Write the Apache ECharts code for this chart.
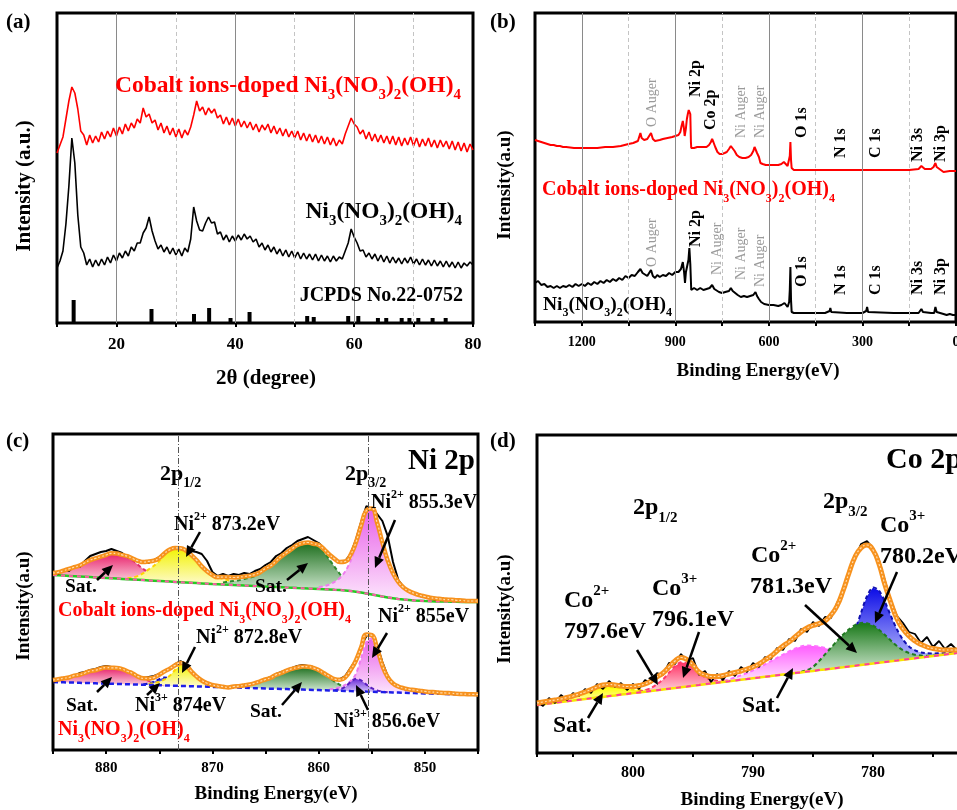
<!DOCTYPE html>
<html>
<head>
<meta charset="utf-8">
<script src="https://cdn.jsdelivr.net/npm/echarts@6/dist/echarts.min.js"></script>
<style>
  html, body { margin: 0; background: #fff; }
  #chart { width: 957px; height: 810px; }
</style>
</head>
<body>
<div id="chart"></div>
<script>
// ---------- (a) XRD, 2theta from 10 to 80 in 0.5 deg steps ----------
const xrdStart = 10, xrdStep = 0.5;
const xrdDoped = [
  170,178,186,204,222,236,230,214,192,188,
  178,188,180,187,181,191,184,192,186,195,
  187,196,189,199,192,200,195,204,200,215,
  206,209,200,203,193,200,190,197,188,195,
  186,194,185,193,188,196,208,222,212,216,
  208,215,210,214,205,208,199,206,198,205,
  197,204,196,202,195,201,193,199,191,198,
  193,199,190,197,189,195,187,194,186,192,
  185,192,183,190,182,189,181,188,180,187,
  179,186,178,185,177,183,179,189,197,205,
  199,196,189,193,184,191,182,189,181,188,
  180,187,179,187,178,186,177,185,178,186,
  177,185,176,184,177,185,176,183,175,183,
  176,182,174,182,173,181,172,180,171,179,
  173
];
const xrdPure = [
  55,62,72,99,137,185,160,108,76,70,
  58,64,56,63,57,64,58,66,60,68,
  62,70,65,72,67,76,72,80,80,90,
  95,106,92,82,74,78,71,76,69,75,
  68,74,67,75,71,84,116,102,93,92,
  100,106,100,101,89,91,83,88,81,87,
  82,88,83,89,84,87,81,84,76,80,
  73,78,71,76,69,74,67,73,66,72,
  65,71,64,70,64,69,63,69,62,68,
  62,67,61,67,62,66,64,72,80,94,
  86,80,72,73,66,70,64,69,62,68,
  61,67,60,66,60,65,59,65,60,66,
  59,64,58,64,58,63,57,63,57,62,
  56,62,56,61,55,61,55,60,57,61,
  58
];
const jcpdsAngle = [12.8, 25.9, 33.05, 35.6, 39.2, 42.4, 52.1, 53.2, 59.0, 60.7, 64.0, 65.4, 68.0, 69.3, 70.8, 73.2, 75.4];
const jcpdsHeight = [23, 14, 9, 15, 5, 11, 7, 6, 7, 7, 5, 5, 5, 5, 5, 5, 5];

// ---------- (b) XPS survey [binding energy, intensity] ----------
const surveyDoped = [
  [1350,182],[1340,181],[1330,180],[1320,179],[1310,178],[1300,177],[1290,177],[1280,176],[1270,176],[1260,175],
  [1250,175],[1225,174],[1200,174],[1175,174],[1150,174],[1125,175],[1100,175],[1075,176],[1050,178],[1035,179],
  [1020,181],[1016,185],[1012,189],[1008,184],[1000,182],[990,183],[984,184],[978,189],[972,183],[965,181],
  [950,182],[940,183],[925,184],[910,185],[900,186],[890,187],[884,190],[880,196],[876,201],[873,195],
  [870,186],[868,185],[866,194],[863,203],[860,208],[857,212],[855,214],[852,208],[850,180],[849,174],
  [840,174],[830,175],[820,175],[810,175],[800,175],[792,177],[786,180],[782,183],[778,180],[772,175],
  [765,170],[758,168],[750,168],[742,169],[735,170],[728,173],[722,176],[716,174],[710,171],[703,167],
  [695,165],[685,164],[675,164],[665,165],[657,167],[650,171],[646,175],[643,175],[638,169],[632,165],
  [627,159],[620,158],[610,157],[600,157],[585,157],[570,157],[560,158],[552,160],[546,158],[540,156],
  [535,158],[533,166],[531,180],[529,162],[527,154],[520,152],[500,152],[450,152],[400,152],[350,152],
  [300,152],[288,152],[285,154],[282,152],[250,152],[200,152],[150,152],[120,153],[114,155],[111,156],
  [107,154],[100,153],[80,153],[72,155],[66,159],[62,155],[58,153],[40,150],[20,151],[0,151]
];
const surveyPure = [
  [1350,39],[1340,41],[1330,37],[1320,38],[1310,35],[1300,36],[1290,34],[1280,36],[1270,34],[1260,36],
  [1250,35],[1240,37],[1230,35],[1220,38],[1210,36],[1200,38],[1190,36],[1180,39],[1170,37],[1160,40],
  [1150,38],[1140,41],[1130,39],[1120,42],[1110,40],[1100,43],[1090,41],[1080,44],[1070,42],[1060,46],
  [1050,44],[1040,47],[1030,46],[1020,50],[1012,53],[1005,49],[1000,50],[990,46],[984,48],[978,52],
  [972,46],[965,44],[958,47],[950,45],[940,47],[930,46],[920,49],[910,47],[900,50],[890,50],
  [882,53],[876,60],[872,50],[869,39],[866,50],[862,56],[858,62],[855,74],[852,58],[849,32],
  [840,34],[830,32],[820,34],[810,32],[800,33],[790,34],[782,37],[775,33],[770,32],[760,30],
  [750,29],[740,30],[728,31],[722,34],[716,31],[710,30],[700,27],[690,25],[680,26],[670,25],
  [660,26],[650,27],[643,30],[638,26],[632,23],[625,20],[615,18],[600,17],[585,17],[570,16],
  [560,17],[550,19],[545,17],[540,15],[535,20],[533,32],[531,55],[529,22],[527,10],[520,9],
  [500,9],[450,9],[420,9],[405,11],[403,14],[400,10],[395,9],[350,9],[300,9],[288,11],
  [285,15],[282,10],[278,9],[200,9],[150,9],[120,9],[114,11],[111,13],[106,10],[100,9],
  [80,9],[70,9],[66,15],[62,10],[60,8],[40,8],[30,7],[20,8],[10,7],[0,7]
];

// ---------- (c) Ni 2p, 885 -> 845 eV in 0.5 eV steps ----------
const niStart = 885, beStep = 0.5;
const niBgDoped = [
  175,174.7,174.4,174.1,173.8,173.5,173.2,172.9,172.6,172.3,
  172,171.7,171.4,171.1,170.8,170.5,170.2,169.9,169.6,169.3,
  169,168.7,168.4,168.1,167.8,167.5,167.2,166.9,166.6,166.3,
  166,165.8,165.5,165.3,165,164.8,164.5,164.3,164,163.8,
  163.5,163.3,163,162.8,162.5,162.3,162,161.8,161.5,161.3,
  161,160.8,160.5,160.2,160,159.5,159,158.3,157.5,156.5,
  155.5,154.5,153.5,152.6,151.8,151,150.4,150,149.6,149.3,
  149,148.8,148.6,148.5,148.4,148.3,148.2,148.1,148,148,
  148
];
const niEnvDoped = [
  177,177.7,179.4,181.1,182.8,184.5,187.2,189.9,191.6,193.3,
  195,196.7,196.4,195.1,193.8,191.5,189.2,187.9,188.6,189.3,
  192,196.7,200.4,202.1,201.8,199.5,195.2,189.9,183.6,178.8,
  175,172.8,173,172.8,172.5,172.8,173.5,174.3,175.5,177.8,
  181.5,184.3,189,193.8,197.5,201.3,205,206.8,207.5,206.3,
  205,200.8,195.5,191.2,188,188.5,195,207.3,224.5,239.5,
  241.5,227.5,207.5,189.6,176.8,168,162.4,159,156.6,154.8,
  153.5,152.3,151.6,151,150.4,150.3,149.7,149.6,149,149,
  149
];
const niRawDoped = [
  178,176,180,179,184,183,189,194,196,198,
  199,201,199,197,193,191,188,189,187,190,
  193,197,201,203,201,200,199,198,196,189,
  178,174,176,174,176,175,177,176,179,181,
  185,188,194,197,202,205,209,211,213,210,
  207,202,196,191,188,189,196,210,228,244,
  241,236,229,214,188,170,163,159,157,154,
  153,152,150,151,150,150,149,150,149,150,
  149
];
// fitted components: heights above background, 0.5 eV steps from their start energy
const dopedSat1 = [2,3,5,7,9,11,14,17,19,21,23,25,25,24,22,19,15,11,8,5,3,2,1,0];            // from 885
const dopedNi2a = [1,2,4,7,11,15,20,26,31,34,34,32,28,23,17,12.5,9,7,5.5,4.5,3.5,3,2.5,2,1.5,1,1]; // from 878
const dopedSat2 = [2,3,4,5,6.5,8,10,13,17,21,26,31,35,39,43,45,46,45,42,37,30,23,16,10,6,3,1,0]; // from 869
const dopedNi2b = [2,3,5,8,12,19,30,46,66,83,86,73,54,37,25,17,12,9,7,5.5,4.5,3.5,3,2.5,2,2,1.5,1.5,1,1,1]; // from 860

const niBgPure = [
  68,67.8,67.7,67.5,67.4,67.2,67,66.9,66.7,66.5,
  66.4,66.2,66.1,65.9,65.7,65.6,65.4,65.2,65.1,64.9,
  64.8,64.6,64.4,64.3,64.1,63.9,63.8,63.6,63.5,63.3,
  63.1,63,62.8,62.6,62.5,62.3,62.2,62,61.8,61.7,
  61.5,61.3,61.2,61,60.9,60.7,60.5,60.4,60.2,60.1,
  59.9,59.7,59.6,59.4,59.2,59.1,58.9,58.8,58.6,58.4,
  58.3,58.1,57.9,57.8,57.6,57.5,57.3,57.1,57,56.8,
  56.6,56.5,56.3,56.2,56,55.8,55.7,55.5,55.3,55.2,
  55
];
const niEnvPure = [
  70,70.8,71.7,72.5,74.4,75.2,77,78.9,79.7,81.5,
  82.4,82.2,82.1,80.9,78.7,76.6,73.4,71.7,71.6,72.4,
  75.3,78.6,81.4,84.8,87.1,84.9,78.8,73.6,69.5,66.8,
  65.1,64,63.3,62.6,63.5,63.8,64.7,65.5,66.8,68.7,
  70.5,72.3,75.2,77,79.4,81.2,82.5,83.4,83.2,82.1,
  79.9,76.7,73.6,70.9,70.2,72.6,79.9,89.3,102.6,115.4,
  114.8,101.6,84.4,72.8,66.6,63.5,61.8,60.6,60,59.3,
  58.6,58,57.8,57.2,57,56.8,56.2,56,55.8,55.7,
  55.5
];
const niRawPure = [
  68,70,71,73,74,77,78,80,81,83,
  84,83,82,81,78,77,74,72,73,74,
  76,79,81,86,89,86,80,74,70,66,
  64,63,64,62,64,63,65,66,67,69,
  71,73,76,78,80,82,84,85,84,83,
  80,77,74,71,71,74,82,90,104,114,
  116,105,88,74,66,63,61,60,59,58,
  58,57,58,56,57,56,56,55,56,55,
  55
];
const pureSat1 = [2,3,4,5,7,8,10,12,13,15,16,16,16,15,13,11,8,6,4,2,1,0];   // from 885
const pureNi3a = [0.5,1.5,3.5,6,8,7,4.5,2,1,0];                              // from 876.5
const pureNi2a = [1,2,3.5,6,10,16,21,20,15,10,6,3.5,2,1,0.5,0];              // from 876
const pureSat2 = [1,1.5,2.5,3.5,5,7,9,11,14,16,18.5,20.5,22,23,23,22,20,17,13,9,6,3.5,2,1,0]; // from 868
const pureNi3b = [0.5,1.5,4,9,12.5,11,7,3.5,1.5,0.5,0];                      // from 858.5
const pureNi2b = [1,2,3.5,6,10,17,33,50,53,42,26,15,9,6,4.5,3.5,3,2.5,2,1.5,1.5,1,1,1,0.5,0.5,0.5,0.5,0.5]; // from 859

// ---------- (d) Co 2p, 808 -> 773 eV in 0.5 eV steps ----------
const coStart = 808;
const coBg = [
  48,48.7,49.5,50.2,50.9,51.7,52.4,53.2,53.9,54.7,
  55.4,56.1,56.9,57.6,58.4,59.1,59.9,60.6,61.3,62.1,
  62.8,63.6,64.3,65,65.8,66.5,67.3,68,68.8,69.5,
  70.2,71,71.7,72.5,73.2,73.9,74.7,75.4,76.2,76.9,
  77.7,78.4,79.1,79.9,80.6,81.4,82.1,82.9,83.6,84.3,
  85.1,85.8,86.6,87.3,88.1,88.8,89.5,90.3,91,91.8,
  92.5,93.3,94,94.7,95.5,96.2,97,97.7,98.5,99.2,
  100
];
const coEnv = [
  50,51,52,53,54,55.5,57,59,61,63.5,
  66,68,68.5,68,67,66.5,66.5,67.5,69,72,
  76,80,86,92,95.5,93.5,88,81,78,76.5,
  76.5,77.5,79,80.5,82,84,86,89,93,97,
  102,107,111,116,121,125,127.5,129.5,132,138,
  147,162,180,196,205,208,203,189,168,150,
  134,124,117,112,108.5,106,104.5,103.5,103,103,
  103
];
const coRaw = [
  52,47,55,50,58,53,60,57,64,60,
  69,64,72,66,70,63,69,64,73,70,
  80,78,90,89,99,92,95,78,82,71,
  79,73,82,77,86,81,90,86,96,94,
  105,103,114,112,124,121,131,127,136,135,
  150,160,183,195,209,212,205,193,172,152,
  137,130,121,119,110,116,106,112,104,109,
  103
];
const coSatA = [0.5,1,2,3,4.5,6,7.5,8.5,9.5,9.5,9,8,6.5,5,3.5,2.5,1.5,1,0.5,0];   // from 807
const coCo2a = [0.5,1,2,3,3.5,3,2,1,0.5,0];                                       // from 799.5
const coCo3a = [0.5,1.5,3,6,10,16,22,25,23,18,12,7,4,2,1,0.5,0];                  // from 799.5
const coSatB = [0.5,1,2,3,4.5,6,8,10,12.5,15,17.5,20,22.5,24.5,26,26,25,23.5,21.5,19,16.5,14,11.5,9,7,5.5,4,3,2,1.5,1,0.5,0]; // from 793
const coCo3b = [0.5,2,5,11,21,35,52,68,76,72,60,45,31,20,12.5,8,5,3.5,2.5,2,1.5,1,1]; // from 784
const coCo2b = [0.5,1.5,4,9,15,21,27,32.5,37,40.5,42,41,38,33,27,20.5,14.5,9.5,6,3.5,2,1,0.5,0]; // from 786

// ---------- helpers ----------
const SERIF = '"Times New Roman", "Liberation Serif", serif';
const ORANGE = '#f7921e';

function scan(start, step, vals) {
  return vals.map((v, i) => [start + i * step, v]);
}

function grad(top, bottom) {
  return new echarts.graphic.LinearGradient(0, 0, 0, 1, [
    { offset: 0, color: top }, { offset: 1, color: bottom }
  ]);
}

// one fitted peak, filled between the background and background + peak height
function peak(ax, bg, bgStart, start, h, top, bottom, edge) {
  const off = Math.round((bgStart - start) / beStep);
  const rows = h.map((v, i) => [start - i * beStep, bg[off + i], bg[off + i] + v]);
  return {
    type: 'custom', xAxisIndex: ax, yAxisIndex: ax, silent: true, clip: true,
    data: rows, encode: { x: 0, y: [1, 2] },
    renderItem: function (params, api) {
      if (params.dataIndex !== 0) return null;
      const upper = rows.map(r => api.coord([r[0], r[2]]));
      const lower = rows.map(r => api.coord([r[0], r[1]])).reverse();
      return { type: 'group', children: [
        { type: 'polygon', shape: { points: upper.concat(lower) }, style: { fill: grad(top, bottom) } },
        { type: 'polyline', shape: { points: upper, smooth: 0.3 },
          style: { stroke: edge, lineWidth: 2, lineDash: [4, 3], fill: null } }
      ] };
    }
  };
}

function line(ax, data, color, width, extra) {
  return Object.assign({ type: 'line', xAxisIndex: ax, yAxisIndex: ax, data: data,
    showSymbol: false, silent: true, lineStyle: { color: color, width: width } }, extra || {});
}

// fitted envelope: thick orange line with a light dotted core
function envelope(ax, data, width) {
  return [
    line(ax, data, ORANGE, width, { smooth: true }),
    line(ax, data, '#ffd9a8', 1.2, { smooth: true, lineStyle: { color: '#ffdcae', width: 1.2, type: [2, 2] } })
  ];
}

function label(x, y, text, size, color, align) {
  const t = text.replace(/_\{([^}]*)\}/g, '{s|$1}').replace(/\^\{([^}]*)\}/g, '{p|$1}');
  const small = Math.round(size * 0.62);
  const c = color || '#000';
  return {
    type: 'text', z: 100, x: x, y: y,
    style: {
      text: t, fill: c, fontSize: size, fontWeight: 'bold', fontFamily: SERIF,
      lineHeight: Math.round(size * 1.45), align: align || 'left', verticalAlign: 'middle',
      rich: {
        s: { fontSize: small, fontWeight: 'bold', fontFamily: SERIF, fill: c, verticalAlign: 'bottom', lineHeight: small },
        p: { fontSize: small, fontWeight: 'bold', fontFamily: SERIF, fill: c, verticalAlign: 'top', lineHeight: small }
      }
    }
  };
}

function title(x, y, text, size, vertical) {
  return {
    type: 'text', z: 100, x: x, y: y, rotation: vertical ? Math.PI / 2 : 0,
    style: { text: text, fill: '#000', fontSize: size, fontWeight: 'bold', fontFamily: SERIF,
      align: 'center', verticalAlign: 'middle' }
  };
}

function vlabel(x, yBottom, text, gray) {
  return {
    type: 'text', z: 100, x: x, y: yBottom, rotation: Math.PI / 2,
    style: {
      text: text, fill: gray ? '#9a9a9a' : '#000', fontSize: gray ? 14 : 16,
      fontWeight: gray ? 'normal' : 'bold', fontFamily: SERIF, align: 'left', verticalAlign: 'middle'
    }
  };
}

function arrow(x1, y1, x2, y2) {
  const a = Math.atan2(y2 - y1, x2 - x1), L = 11, W = 5;
  const bx = x2 - L * Math.cos(a), by = y2 - L * Math.sin(a);
  return [
    { type: 'line', z: 100, shape: { x1: x1, y1: y1, x2: bx, y2: by }, style: { stroke: '#000', lineWidth: 2.5 } },
    { type: 'polygon', z: 100, shape: { points: [[x2, y2],
        [bx - W * Math.sin(a), by + W * Math.cos(a)], [bx + W * Math.sin(a), by - W * Math.cos(a)]] },
      style: { fill: '#000' } }
  ];
}

function xAxis(grid, min, max, interval, every, inverse, tickSize, margin) {
  return {
    gridIndex: grid, type: 'value', min: min, max: max, interval: interval, inverse: !!inverse,
    axisLine: { show: false },
    axisTick: { show: true, length: 4, lineStyle: { color: '#000', width: 2 } },
    axisLabel: { margin: margin, color: '#000', fontFamily: SERIF, fontWeight: 'bold', fontSize: tickSize,
      formatter: v => (v % every === 0 ? String(v) : '') },
    splitLine: { show: false }
  };
}

function yAxis(grid, max) {
  return {
    gridIndex: grid, type: 'value', min: 0, max: max,
    axisLine: { show: false }, axisTick: { show: false }, axisLabel: { show: false }, splitLine: { show: false }
  };
}

function gridLines(ax, solid, dashed, anchor) {
  const d = solid.map(v => ({ xAxis: v, lineStyle: { color: '#8a8a8a', width: 1, type: 'solid' } }))
    .concat(dashed.map(v => ({ xAxis: v, lineStyle: { color: '#c4c4c4', width: 1, type: [4, 3] } })));
  return { type: 'line', xAxisIndex: ax, yAxisIndex: ax, data: [anchor], z: 1, silent: true,
    showSymbol: false, lineStyle: { opacity: 0 },
    markLine: { silent: true, symbol: ['none', 'none'], label: { show: false }, animation: false, data: d } };
}

// ---------- series ----------
const series = [];

// (a)
series.push(gridLines(0, [20, 40, 60], [30, 50, 70], [10, 0]));
series.push(line(0, scan(xrdStart, xrdStep, xrdDoped), '#ff0000', 1.6));
series.push(line(0, scan(xrdStart, xrdStep, xrdPure), '#000', 1.6));
series.push({ type: 'bar', xAxisIndex: 0, yAxisIndex: 0, barWidth: 4, silent: true,
  itemStyle: { color: '#000' }, data: jcpdsAngle.map((a, i) => [a, jcpdsHeight[i]]) });

// (b)
series.push(gridLines(1, [1200, 900, 600, 300], [1050, 750, 450, 150], [0, 0]));
series.push(line(1, surveyDoped, '#ff0000', 2));
series.push(line(1, surveyPure, '#000', 2));

// (c) upper: cobalt ions-doped
series.push(peak(2, niBgDoped, niStart, 885, dopedSat1, '#e8206a', '#fbd0de', '#e0306e'));
series.push(peak(2, niBgDoped, niStart, 878, dopedNi2a, '#f2f200', '#fffbd8', '#ffd400'));
series.push(peak(2, niBgDoped, niStart, 869, dopedSat2, '#1c6e1c', '#d6ecd6', '#2d8a2d'));
series.push(peak(2, niBgDoped, niStart, 860, dopedNi2b, '#e861e8', '#fde8fd', '#ee7cee'));
series.push(line(2, scan(niStart, -beStep, niBgDoped), '#22cc22', 2.5));
series.push(line(2, scan(niStart, -beStep, niBgDoped), '#ff5aa8', 2, { lineStyle: { color: '#ff5aa8', width: 2, type: [4, 4] } }));
series.push(line(2, scan(niStart, -beStep, niRawDoped), '#000', 2));
series.push(...envelope(2, scan(niStart, -beStep, niEnvDoped), 4.5));
// (c) lower: pure
series.push(peak(2, niBgPure, niStart, 885, pureSat1, '#e8206a', '#fbd0de', '#e0306e'));
series.push(peak(2, niBgPure, niStart, 876.5, pureNi3a, '#1f1fe0', '#c9c9ff', '#1515c0'));
series.push(peak(2, niBgPure, niStart, 876, pureNi2a, '#f2f200', '#fffbd8', '#ffd400'));
series.push(peak(2, niBgPure, niStart, 868, pureSat2, '#1c6e1c', '#d6ecd6', '#2d8a2d'));
series.push(peak(2, niBgPure, niStart, 859, pureNi2b, '#e861e8', '#fde8fd', '#ee7cee'));
series.push(peak(2, niBgPure, niStart, 858.5, pureNi3b, '#6a2bd8', '#d9c6fa', '#5a1fc0'));
series.push(line(2, scan(niStart, -beStep, niBgPure), '#1e1ee8', 2.5, { lineStyle: { color: '#1e1ee8', width: 2.5, type: [5, 3] } }));
series.push(line(2, scan(niStart, -beStep, niRawPure), '#000', 2));
series.push(...envelope(2, scan(niStart, -beStep, niEnvPure), 4.5));
series.push({ type: 'line', xAxisIndex: 2, yAxisIndex: 2, data: [[885, 0]], z: 5, silent: true,
  showSymbol: false, lineStyle: { opacity: 0 },
  markLine: { silent: true, symbol: ['none', 'none'], label: { show: false }, animation: false,
    lineStyle: { color: '#555', width: 1, type: [6, 2, 1, 2] },
    data: [{ xAxis: 873.2 }, { xAxis: 855.3 }] } });

// (d)
series.push(peak(3, coBg, coStart, 807, coSatA, '#ffff00', '#fffbd0', '#f0e000'));
series.push(peak(3, coBg, coStart, 799.5, coCo2a, '#9b30ff', '#e2c8ff', '#8020e0'));
series.push(peak(3, coBg, coStart, 799.5, coCo3a, '#ff2f62', '#ffd6e0', '#ff3a6a'));
series.push(peak(3, coBg, coStart, 793, coSatB, '#ff5cff', '#ffe6ff', '#ff70ff'));
series.push(peak(3, coBg, coStart, 784, coCo3b, '#0a0ae6', '#cdd0ff', '#1010b0'));
series.push(peak(3, coBg, coStart, 786, coCo2b, '#187818', '#cfe6cf', '#207a20'));
series.push(line(3, scan(coStart, -beStep, coBg), '#f5e600', 2.5));
series.push(line(3, scan(coStart, -beStep, coBg), '#ff3aa0', 2, { lineStyle: { color: '#ff3aa0', width: 2, type: [5, 5] } }));
series.push(line(3, scan(coStart, -beStep, coRaw), '#000', 1.8));
series.push(...envelope(3, scan(coStart, -beStep, coEnv), 5));

// ---------- annotations ----------
const graphic = [
  label(6, 23, '(a)', 21), label(490, 23, '(b)', 21), label(6, 442, '(c)', 21), label(490, 442, '(d)', 21),
  // axis titles
  title(266, 379, '2θ (degree)', 21), title(25, 186, 'Intensity (a.u.)', 21, true),
  title(758, 371, 'Binding Energy(eV)', 19), title(505, 185, 'Intensity(a.u)', 19, true),
  title(276, 794, 'Binding Energy(eV)', 19), title(24, 606, 'Intensity(a.u)', 19, true),
  title(762, 800, 'Binding Energy(eV)', 19), title(505, 609, 'Intensity(a.u)', 19, true),
  // (a)
  label(115, 86, 'Cobalt ions-doped Ni_{3}(NO_{3})_{2}(OH)_{4}', 23.5, '#ff0000'),
  label(462, 212, 'Ni_{3}(NO_{3})_{2}(OH)_{4}', 23.5, '#000', 'right'),
  label(463, 296, 'JCPDS No.22-0752', 20, '#000', 'right'),
  // (b)
  label(542, 190, 'Cobalt ions-doped Ni_{3}(NO_{3})_{2}(OH)_{4}', 20, '#ff0000'),
  label(543, 305, 'Ni_{3}(NO_{3})_{2}(OH)_{4}', 19.5),
  vlabel(652, 127, 'O Auger', true), vlabel(696, 97, 'Ni 2p'), vlabel(711, 130, 'Co 2p'),
  vlabel(741, 138, 'Ni Auger', true), vlabel(760, 138, 'Ni Auger', true), vlabel(802, 138, 'O 1s'),
  vlabel(841, 158, 'N 1s'), vlabel(876, 158, 'C 1s'), vlabel(918, 162, 'Ni 3s'), vlabel(941, 162, 'Ni 3p'),
  vlabel(652, 267, 'O Auger', true), vlabel(696, 247, 'Ni 2p'), vlabel(717, 275, 'Ni Auger', true),
  vlabel(741, 280, 'Ni Auger', true), vlabel(760, 287, 'Ni Auger', true), vlabel(802, 287, 'O 1s'),
  vlabel(841, 295, 'N 1s'), vlabel(876, 295, 'C 1s'), vlabel(918, 295, 'Ni 3s'), vlabel(941, 295, 'Ni 3p'),
  // (c)
  label(475, 462, 'Ni 2p', 29, '#000', 'right'),
  label(160, 474, '2p_{1/2}', 22), label(345, 474, '2p_{3/2}', 22),
  label(174, 525, 'Ni^{2+} 873.2eV', 20), label(371, 503, 'Ni^{2+} 855.3eV', 20),
  label(65, 587, 'Sat.', 19.5), label(255, 587, 'Sat.', 19.5),
  label(58, 611, 'Cobalt ions-doped Ni_{3}(NO_{3})_{2}(OH)_{4}', 20, '#ff0000'),
  label(378, 617, 'Ni^{2+} 855eV', 20), label(196, 638, 'Ni^{2+} 872.8eV', 20),
  label(66, 706, 'Sat.', 19.5), label(135, 706, 'Ni^{3+} 874eV', 20), label(250, 712, 'Sat.', 19.5),
  label(334, 722, 'Ni^{3+} 856.6eV', 20),
  label(58, 730, 'Ni_{3}(NO_{3})_{2}(OH)_{4}', 20, '#ff0000'),
  // (d)
  label(886, 460, 'Co 2p', 30),
  label(633, 508, '2p_{1/2}', 24), label(823, 502, '2p_{3/2}', 24),
  label(880, 526, 'Co^{3+}', 24), label(880, 557, '780.2eV', 24),
  label(751, 556, 'Co^{2+}', 24), label(750, 587, '781.3eV', 24),
  label(564, 601, 'Co^{2+}', 24), label(564, 632, '797.6eV', 24),
  label(652, 589, 'Co^{3+}', 24), label(652, 620, '796.1eV', 24),
  label(553, 726, 'Sat.', 23.5), label(742, 706, 'Sat.', 23.5)
].concat(
  arrow(97, 580, 113, 565), arrow(200, 532, 186, 557), arrow(287, 580, 308, 563),
  arrow(395, 520, 375, 568), arrow(387, 633, 372, 658), arrow(195, 647, 182, 673),
  arrow(97, 692, 112, 677), arrow(147, 695, 160, 683), arrow(282, 705, 302, 682),
  arrow(368, 710, 356, 685),
  arrow(637, 650, 658, 685), arrow(699, 632, 683, 678), arrow(805, 605, 857, 653),
  arrow(897, 572, 875, 623), arrow(588, 718, 603, 693), arrow(777, 698, 793, 668)
);

const frame = { show: true, borderColor: '#000', borderWidth: 3, backgroundColor: 'transparent',
  containLabel: false, outerBoundsMode: 'none' };

const chart = echarts.init(document.getElementById('chart'));
chart.setOption({
  animation: false,
  backgroundColor: '#fff',
  grid: [
    Object.assign({ left: 57, right: 484, top: 13, bottom: 487 }, frame),
    Object.assign({ left: 535, right: 1, top: 13, bottom: 488 }, frame),
    Object.assign({ left: 53, right: 479, top: 434, bottom: 60 }, frame),
    Object.assign({ left: 537, right: -36, top: 435, bottom: 57 }, frame)
  ],
  xAxis: [
    xAxis(0, 10, 80, 10, 20, false, 17, 13),
    xAxis(1, 0, 1350, 150, 300, true, 14, 13),
    xAxis(2, 845, 885, 5, 10, true, 15, 11),
    xAxis(3, 770, 808, 5, 10, true, 16, 12)
  ],
  yAxis: [yAxis(0, 310), yAxis(1, 309), yAxis(2, 316), yAxis(3, 318)],
  series: series,
  graphic: graphic
});
</script>
</body>
</html>
